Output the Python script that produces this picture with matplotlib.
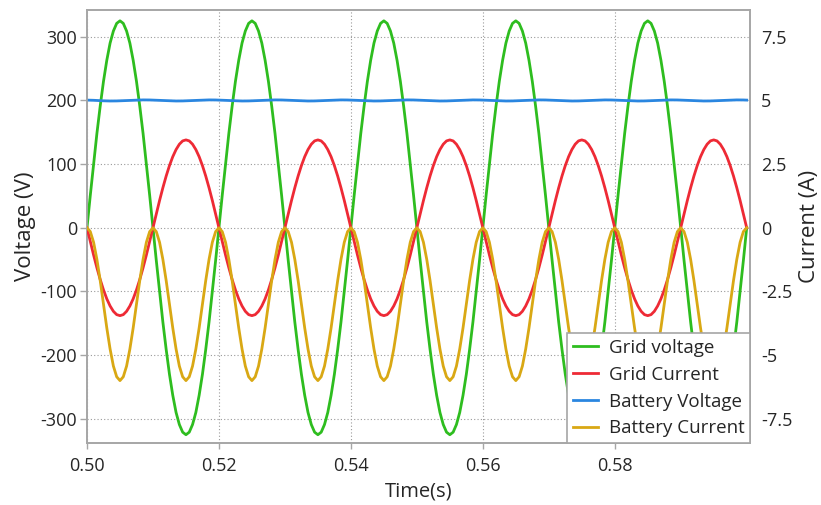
import numpy as np
import matplotlib
matplotlib.use("Agg")
import matplotlib.pyplot as plt
from matplotlib.ticker import FuncFormatter

# sample times (s), 0.5 ms step
time_s = np.round(np.linspace(0.50, 0.60, 201), 5)

# Grid voltage (V)
grid_voltage = [
    0, 51, 100, 148, 191, 230, 263, 290, 309, 321, 325, 321, 309, 290, 263, 230, 191, 148, 100, 51,
    0, -51, -100, -148, -191, -230, -263, -290, -309, -321, -325, -321, -309, -290, -263, -230, -191, -148, -100, -51,
    0, 51, 100, 148, 191, 230, 263, 290, 309, 321, 325, 321, 309, 290, 263, 230, 191, 148, 100, 51,
    0, -51, -100, -148, -191, -230, -263, -290, -309, -321, -325, -321, -309, -290, -263, -230, -191, -148, -100, -51,
    0, 51, 100, 148, 191, 230, 263, 290, 309, 321, 325, 321, 309, 290, 263, 230, 191, 148, 100, 51,
    0, -51, -100, -148, -191, -230, -263, -290, -309, -321, -325, -321, -309, -290, -263, -230, -191, -148, -100, -51,
    0, 51, 100, 148, 191, 230, 263, 290, 309, 321, 325, 321, 309, 290, 263, 230, 191, 148, 100, 51,
    0, -51, -100, -148, -191, -230, -263, -290, -309, -321, -325, -321, -309, -290, -263, -230, -191, -148, -100, -51,
    0, 51, 100, 148, 191, 230, 263, 290, 309, 321, 325, 321, 309, 290, 263, 230, 191, 148, 100, 51,
    0, -51, -100, -148, -191, -230, -263, -290, -309, -321, -325, -321, -309, -290, -263, -230, -191, -148, -100, -51,
    0]

# Grid current (A)
grid_current = [
    0, -0.54, -1.07, -1.57, -2.03, -2.44, -2.79, -3.07, -3.28, -3.41, -3.45, -3.41, -3.28, -3.07, -2.79, -2.44, -2.03, -1.57, -1.07, -0.54,
    0, 0.54, 1.07, 1.57, 2.03, 2.44, 2.79, 3.07, 3.28, 3.41, 3.45, 3.41, 3.28, 3.07, 2.79, 2.44, 2.03, 1.57, 1.07, 0.54,
    0, -0.54, -1.07, -1.57, -2.03, -2.44, -2.79, -3.07, -3.28, -3.41, -3.45, -3.41, -3.28, -3.07, -2.79, -2.44, -2.03, -1.57, -1.07, -0.54,
    0, 0.54, 1.07, 1.57, 2.03, 2.44, 2.79, 3.07, 3.28, 3.41, 3.45, 3.41, 3.28, 3.07, 2.79, 2.44, 2.03, 1.57, 1.07, 0.54,
    0, -0.54, -1.07, -1.57, -2.03, -2.44, -2.79, -3.07, -3.28, -3.41, -3.45, -3.41, -3.28, -3.07, -2.79, -2.44, -2.03, -1.57, -1.07, -0.54,
    0, 0.54, 1.07, 1.57, 2.03, 2.44, 2.79, 3.07, 3.28, 3.41, 3.45, 3.41, 3.28, 3.07, 2.79, 2.44, 2.03, 1.57, 1.07, 0.54,
    0, -0.54, -1.07, -1.57, -2.03, -2.44, -2.79, -3.07, -3.28, -3.41, -3.45, -3.41, -3.28, -3.07, -2.79, -2.44, -2.03, -1.57, -1.07, -0.54,
    0, 0.54, 1.07, 1.57, 2.03, 2.44, 2.79, 3.07, 3.28, 3.41, 3.45, 3.41, 3.28, 3.07, 2.79, 2.44, 2.03, 1.57, 1.07, 0.54,
    0, -0.54, -1.07, -1.57, -2.03, -2.44, -2.79, -3.07, -3.28, -3.41, -3.45, -3.41, -3.28, -3.07, -2.79, -2.44, -2.03, -1.57, -1.07, -0.54,
    0, 0.54, 1.07, 1.57, 2.03, 2.44, 2.79, 3.07, 3.28, 3.41, 3.45, 3.41, 3.28, 3.07, 2.79, 2.44, 2.03, 1.57, 1.07, 0.54,
    0]

# Battery voltage (V)
battery_voltage = [
    200.5, 200.4, 200.2, 199.9, 199.6, 199.4, 199.2, 199.1, 199.1, 199.2, 199.4, 199.6, 199.8, 200.0, 200.3, 200.5, 200.7, 200.8, 200.8, 200.7,
    200.5, 200.4, 200.2, 199.9, 199.6, 199.4, 199.2, 199.1, 199.1, 199.2, 199.4, 199.6, 199.8, 200.0, 200.3, 200.5, 200.7, 200.8, 200.8, 200.7,
    200.5, 200.4, 200.2, 199.9, 199.6, 199.4, 199.2, 199.1, 199.1, 199.2, 199.4, 199.6, 199.8, 200.0, 200.3, 200.5, 200.7, 200.8, 200.8, 200.7,
    200.5, 200.4, 200.2, 199.9, 199.6, 199.4, 199.2, 199.1, 199.1, 199.2, 199.4, 199.6, 199.8, 200.0, 200.3, 200.5, 200.7, 200.8, 200.8, 200.7,
    200.5, 200.4, 200.2, 199.9, 199.6, 199.4, 199.2, 199.1, 199.1, 199.2, 199.4, 199.6, 199.8, 200.0, 200.3, 200.5, 200.7, 200.8, 200.8, 200.7,
    200.5, 200.4, 200.2, 199.9, 199.6, 199.4, 199.2, 199.1, 199.1, 199.2, 199.4, 199.6, 199.8, 200.0, 200.3, 200.5, 200.7, 200.8, 200.8, 200.7,
    200.5, 200.4, 200.2, 199.9, 199.6, 199.4, 199.2, 199.1, 199.1, 199.2, 199.4, 199.6, 199.8, 200.0, 200.3, 200.5, 200.7, 200.8, 200.8, 200.7,
    200.5, 200.4, 200.2, 199.9, 199.6, 199.4, 199.2, 199.1, 199.1, 199.2, 199.4, 199.6, 199.8, 200.0, 200.3, 200.5, 200.7, 200.8, 200.8, 200.7,
    200.5, 200.4, 200.2, 199.9, 199.6, 199.4, 199.2, 199.1, 199.1, 199.2, 199.4, 199.6, 199.8, 200.0, 200.3, 200.5, 200.7, 200.8, 200.8, 200.7,
    200.5, 200.4, 200.2, 199.9, 199.6, 199.4, 199.2, 199.1, 199.1, 199.2, 199.4, 199.6, 199.8, 200.0, 200.3, 200.5, 200.7, 200.8, 200.8, 200.7,
    200.5]

# Battery current (A)
battery_current = [
    0, -0.15, -0.57, -1.24, -2.07, -3.0, -3.93, -4.76, -5.43, -5.85, -6.0, -5.85, -5.43, -4.76, -3.93, -3.0, -2.07, -1.24, -0.57, -0.15,
    0, -0.15, -0.57, -1.24, -2.07, -3.0, -3.93, -4.76, -5.43, -5.85, -6.0, -5.85, -5.43, -4.76, -3.93, -3.0, -2.07, -1.24, -0.57, -0.15,
    0, -0.15, -0.57, -1.24, -2.07, -3.0, -3.93, -4.76, -5.43, -5.85, -6.0, -5.85, -5.43, -4.76, -3.93, -3.0, -2.07, -1.24, -0.57, -0.15,
    0, -0.15, -0.57, -1.24, -2.07, -3.0, -3.93, -4.76, -5.43, -5.85, -6.0, -5.85, -5.43, -4.76, -3.93, -3.0, -2.07, -1.24, -0.57, -0.15,
    0, -0.15, -0.57, -1.24, -2.07, -3.0, -3.93, -4.76, -5.43, -5.85, -6.0, -5.85, -5.43, -4.76, -3.93, -3.0, -2.07, -1.24, -0.57, -0.15,
    0, -0.15, -0.57, -1.24, -2.07, -3.0, -3.93, -4.76, -5.43, -5.85, -6.0, -5.85, -5.43, -4.76, -3.93, -3.0, -2.07, -1.24, -0.57, -0.15,
    0, -0.15, -0.57, -1.24, -2.07, -3.0, -3.93, -4.76, -5.43, -5.85, -6.0, -5.85, -5.43, -4.76, -3.93, -3.0, -2.07, -1.24, -0.57, -0.15,
    0, -0.15, -0.57, -1.24, -2.07, -3.0, -3.93, -4.76, -5.43, -5.85, -6.0, -5.85, -5.43, -4.76, -3.93, -3.0, -2.07, -1.24, -0.57, -0.15,
    0, -0.15, -0.57, -1.24, -2.07, -3.0, -3.93, -4.76, -5.43, -5.85, -6.0, -5.85, -5.43, -4.76, -3.93, -3.0, -2.07, -1.24, -0.57, -0.15,
    0, -0.15, -0.57, -1.24, -2.07, -3.0, -3.93, -4.76, -5.43, -5.85, -6.0, -5.85, -5.43, -4.76, -3.93, -3.0, -2.07, -1.24, -0.57, -0.15,
    0]

x_ticks = [0.50, 0.52, 0.54, 0.56, 0.58]
x_ticklabels = ["0.50", "0.52", "0.54", "0.56", "0.58"]
left_ticks = [-300, -200, -100, 0, 100, 200, 300]
right_ticks = [-7.5, -5, -2.5, 0, 2.5, 5, 7.5]
series_names = ["Grid voltage", "Grid Current", "Battery Voltage", "Battery Current"]

plt.rcParams['font.family'] = ['Open Sans', 'DejaVu Sans']
plt.rcParams['axes.unicode_minus'] = False

C_GREEN = "#2ebd1f"
C_RED = "#ee2a35"
C_BLUE = "#2a86e0"
C_YEL = "#d9a814"
SPINE = "#a6a6a6"
TXT = "#262626"

fig = plt.figure(figsize=(8.21, 5.05), dpi=100)
ax = fig.add_axes([87/821, 1 - 443/505, (750-87)/821, (443-10)/505])
ax2 = ax.twinx()

lw = 2.0
l1, = ax.plot(time_s, grid_voltage, color=C_GREEN, lw=lw, zorder=3)
l3, = ax.plot(time_s, battery_voltage, color=C_BLUE, lw=lw, zorder=3)
l2, = ax2.plot(time_s, grid_current, color=C_RED, lw=lw, zorder=3)
l4, = ax2.plot(time_s, battery_current, color=C_YEL, lw=lw, zorder=3)

ax.set_xlim(0.50, 0.6005)
ax.set_ylim(-338, 342)
ax2.set_ylim(-338/40, 342/40)

ax.set_xticks(x_ticks)
ax.set_xticklabels(x_ticklabels)
ax.set_yticks(left_ticks)
ax2.set_yticks(right_ticks)
ax.yaxis.set_major_formatter(FuncFormatter(lambda v, p: f"{v:g}"))
ax2.yaxis.set_major_formatter(FuncFormatter(lambda v, p: f"{v:g}"))

ax.grid(True, color="#9a9a9a", linestyle=(0, (1, 2)), linewidth=0.8)
ax.set_axisbelow(True)

for a in (ax, ax2):
    for s in a.spines.values():
        s.set_color(SPINE)
        s.set_linewidth(1.2)
    a.tick_params(colors=TXT, labelsize=13, length=4, color=SPINE, width=1)
ax.tick_params(axis='y', length=5, pad=2)
ax2.tick_params(axis='y', length=0, pad=8)
ax.tick_params(axis='x', pad=6)

ax.set_xlabel("Time(s)", fontsize=14.5, color=TXT, labelpad=5)
ax.set_ylabel("Voltage (V)", fontsize=16, color=TXT, labelpad=3)
ax2.set_ylabel("Current (A)", fontsize=16, color=TXT, labelpad=5)

leg = ax2.legend([l1, l2, l3, l4], series_names, loc="lower right", fontsize=13.5,
                 frameon=True, fancybox=False, framealpha=1.0, borderaxespad=0,
                 handlelength=1.35, handletextpad=0.55, labelspacing=0.47, borderpad=0.3)
leg.get_frame().set_edgecolor(SPINE)
leg.get_frame().set_linewidth(1.2)
for t in leg.get_texts():
    t.set_color(TXT)

fig.savefig("out.png", dpi=100)
